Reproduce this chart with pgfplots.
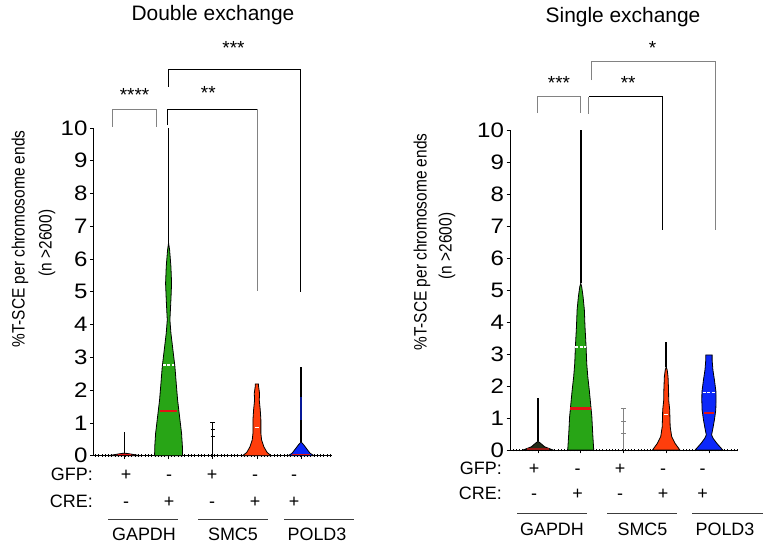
\documentclass[border=0pt]{standalone}
\usepackage{fontspec}
\setmainfont{Liberation Sans}
\newfontfamily\ylabfont[FakeStretch=0.86]{Liberation Sans}
\newfontfamily\tickfont[FakeStretch=1.15]{Liberation Sans}
\usepackage{pgfplots}
\pgfplotsset{compat=1.18}
\definecolor{vgreen}{RGB}{40,165,22}
\definecolor{vorange}{RGB}{255,62,12}
\definecolor{vblue}{RGB}{12,40,250}
\definecolor{vred}{RGB}{225,20,20}
\definecolor{vdark}{RGB}{35,45,25}
\definecolor{vdred}{RGB}{150,25,20}
\definecolor{brgray}{RGB}{130,130,130}
\definecolor{lgray}{RGB}{60,60,60}
\pgfplotsset{
 violinax/.style={
   scale only axis, anchor=south west,
   ymin=0, ymax=10, ytick={0,1,...,10},
   xtick={0,1,2,3,4}, xticklabels={},
   axis x line*=bottom, axis y line*=left,
   axis line style={-, line width=0.9bp},
   tick style={black, line width=0.8bp},
   tick align=outside, major tick length=3.5bp,
   minor tick length=2.5bp,
   minor xtick={-0.66,-0.585,...,4.7},
   minor x tick style={yshift=1.2bp, line width=0.7bp},
   yticklabel style={font=\tickfont\fontsize{21}{21}\selectfont, xshift=1bp},
   /pgf/number format/assume math mode=true,
   clip=false,
 },
 vio/.style={draw=black, line width=0.8bp},
 whisk/.style={black, line width=1.2bp},
 med/.style={vred, line width=2.4bp},
 qrt/.style={white, line width=1.2bp, dash pattern=on 3bp off 1.5bp},
 br/.style={line width=0.8bp},
}
\tikzset{
 star/.style={font=\fontsize{19}{19}\selectfont},
 lab/.style={font=\fontsize{18}{18}\selectfont},
 ttl/.style={font=\fontsize{21}{23}\selectfont},
 ylab/.style={font=\ylabfont\fontsize{18}{20}\selectfont, rotate=90},
}
\begin{document}
\begin{tikzpicture}
\path[use as bounding box] (0,0) rectangle (770bp,543bp);

% ================= LEFT: Double exchange =================
\begin{axis}[violinax, at={(93.5bp,87.3bp)}, width=238.5bp, height=327.7bp,
  xmin=-0.7, xmax=4.7]
% GAPDH GFP+
\addplot[vio, fill=vdred] coordinates {(-0.36,0) (-0.15,0.05) (0,0.08) (0.15,0.05) (0.36,0)} --cycle;
\addplot[whisk] coordinates {(0,0.08) (0,0.73)};
\addplot[med, line width=1.5bp] coordinates {(-0.14,0.03) (0.14,0.03)};
% GAPDH CRE+
\addplot[vio, fill=vgreen] coordinates {(0.683,0) (0.688,0.3) (0.706,0.68) (0.751,1.19) (0.796,1.70) (0.827,2.21) (0.857,2.72) (0.902,3.23) (0.947,3.74) (0.970,4.14) (0.947,4.76) (0.932,5.26) (0.947,5.77) (0.977,6.28) (1,6.49)
 (1.023,6.28) (1.053,5.77) (1.068,5.26) (1.053,4.76) (1.030,4.14) (1.053,3.74) (1.098,3.23) (1.143,2.72) (1.173,2.21) (1.204,1.70) (1.249,1.19) (1.294,0.68) (1.312,0.3) (1.317,0)} --cycle;
\addplot[whisk] coordinates {(1,6.49) (1,10)};
\addplot[med] coordinates {(0.81,1.37) (1.19,1.37)};
\addplot[qrt] coordinates {(0.87,2.77) (1.13,2.77)};
% SMC5 GFP+
\addplot[whisk, line width=1bp] coordinates {(2,0) (2,1.0)};
\addplot[whisk, line width=1bp] coordinates {(1.94,1.0) (2.06,1.0)};
\addplot[whisk, line width=1bp] coordinates {(1.95,0.8) (2.05,0.8)};
\addplot[whisk, line width=1bp] coordinates {(1.95,0.6) (2.05,0.6)};
% SMC5 CRE+
\addplot[vio, fill=vorange] coordinates {(2.676,0) (2.77,0.1) (2.842,0.27) (2.894,0.48) (2.91,0.68) (2.91,1.09) (2.925,1.40) (2.947,1.70) (2.94,1.90) (2.962,2.11) (2.962,2.19)
 (3.038,2.19) (3.038,2.11) (3.06,1.90) (3.053,1.70) (3.075,1.40) (3.09,1.09) (3.09,0.68) (3.106,0.48) (3.158,0.27) (3.23,0.1) (3.324,0)} --cycle;
\addplot[white, line width=1.2bp] coordinates {(2.95,0.87) (3.05,0.87)};
% POLD3 CRE+
\addplot[vio, fill=vblue] coordinates {(3.71,0) (3.80,0.08) (3.85,0.17) (3.94,0.33) (4,0.42) (4.06,0.33) (4.15,0.17) (4.20,0.08) (4.29,0)} --cycle;
\addplot[whisk] coordinates {(4,0.42) (4,2.72)};
\addplot[vblue!60!black, line width=2bp] coordinates {(4,1.1) (4,1.8)};
\addplot[med, line width=1.5bp] coordinates {(3.8,0.03) (4.2,0.03)};
% significance brackets
\addplot[br, brgray] coordinates {(-0.266,10.04) (-0.266,10.58) (0.73,10.58) (0.73,10.04)};
\addplot[br, brgray] coordinates {(3.006,5.03) (3.006,10.58)};
\addplot[br, black] coordinates {(0.97,10.09) (0.97,10.58) (3.006,10.58)};
\addplot[br, black] coordinates {(0.99,11.26) (0.99,11.8) (3.99,11.8) (3.99,5.0)};
\node[star] at (axis cs:0.23,11.0) {****};
\node[star] at (axis cs:1.9,11.07) {**};
\node[star] at (axis cs:2.47,12.44) {***};
\end{axis}

% ================= RIGHT: Single exchange =================
\begin{axis}[violinax, at={(510bp,93bp)}, width=228bp, height=320bp,
  xmin=-0.655, xmax=4.68]
% GAPDH GFP+
\addplot[vio, fill=vdark] coordinates {(-0.35,0) (-0.156,0.1) (-0.06,0.21) (0,0.27) (0.06,0.21) (0.156,0.1) (0.35,0)} --cycle;
\addplot[whisk] coordinates {(0,0.27) (0,1.61)};
\addplot[vdred, line width=1.5bp] coordinates {(-0.25,0.03) (0.25,0.03)};
% GAPDH CRE+
\addplot[vio, fill=vgreen] coordinates {(0.696,0) (0.72,0.52) (0.74,1.04) (0.77,1.46) (0.80,1.875) (0.835,2.29) (0.86,2.71) (0.875,3.23) (0.90,3.85) (0.915,4.375) (0.945,4.79) (0.977,5.10) (1,5.21)
 (1.023,5.10) (1.055,4.79) (1.085,4.375) (1.10,3.85) (1.125,3.23) (1.14,2.71) (1.165,2.29) (1.20,1.875) (1.23,1.46) (1.26,1.04) (1.28,0.52) (1.304,0)} --cycle;
\addplot[whisk, line width=1.6bp] coordinates {(1,5.21) (1,10)};
\addplot[med] coordinates {(0.755,1.3) (1.245,1.3)};
\addplot[qrt] coordinates {(0.875,3.22) (1.125,3.22)};
% SMC5 GFP+
\addplot[brgray, line width=1bp] coordinates {(2,0) (2,1.3)};
\addplot[brgray, line width=1bp] coordinates {(1.94,1.3) (2.06,1.3)};
\addplot[brgray, line width=1bp] coordinates {(1.95,0.89) (2.05,0.89)};
\addplot[brgray, line width=1bp] coordinates {(1.95,0.52) (2.05,0.52)};
% SMC5 CRE+
\addplot[vio, fill=vorange] coordinates {(2.68,0) (2.794,0.21) (2.872,0.42) (2.907,0.73) (2.918,1.25) (2.942,1.56) (2.945,1.875) (2.957,2.29) (2.977,2.5) (3,2.6)
 (3.023,2.5) (3.043,2.29) (3.055,1.875) (3.058,1.56) (3.082,1.25) (3.093,0.73) (3.128,0.42) (3.206,0.21) (3.32,0)} --cycle;
\addplot[whisk, line width=1.6bp] coordinates {(3,2.6) (3,3.39)};
\addplot[white, line width=1.2bp] coordinates {(2.955,1.12) (3.045,1.12)};
% POLD3 CRE+
\addplot[vio, fill=vblue] coordinates {(3.677,0) (3.817,0.21) (3.90,0.36) (3.938,0.47) (3.907,0.68) (3.872,0.94) (3.84,1.25) (3.833,1.56) (3.836,1.82) (3.872,2.19) (3.907,2.5) (3.926,2.81) (3.926,2.97)
 (4.074,2.97) (4.074,2.81) (4.093,2.5) (4.128,2.19) (4.164,1.82) (4.167,1.56) (4.16,1.25) (4.128,0.94) (4.093,0.68) (4.062,0.47) (4.10,0.36) (4.183,0.21) (4.323,0)} --cycle;
\addplot[med] coordinates {(3.89,1.15) (4.11,1.15)};
\addplot[qrt] coordinates {(3.852,1.8) (4.148,1.8)};
% significance brackets
\addplot[br, brgray] coordinates {(-0.007,10.53) (-0.007,11.04) (0.999,11.04) (0.999,10.53)};
\addplot[br, brgray] coordinates {(1.19,10.5) (1.19,11.04)};
\addplot[br, black] coordinates {(1.19,11.04) (2.917,11.04) (2.917,6.875)};
\addplot[br, brgray] coordinates {(1.256,11.56) (1.256,12.13) (4.16,12.13) (4.16,6.875)};
\node[star] at (axis cs:0.49,11.47) {***};
\node[star] at (axis cs:2.11,11.48) {**};
\node[star] at (axis cs:2.68,12.56) {*};
\end{axis}

% ================= text outside axes =================
\node[ttl] at (213bp,528bp) {Double exchange};
\node[ttl] at (623bp,526bp) {Single exchange};
\node[ylab] at (20bp,304bp) {\%T-SCE per chromosome ends};
\node[ylab] at (47bp,300bp) {(n >2600)};
\node[ylab] at (422bp,301bp) {\%T-SCE per chromosome ends};
\node[ylab] at (447bp,297bp) {(n >2600)};

% left rows
\node[lab, anchor=base east, inner sep=0] at (93bp,62bp) {GFP:};
\node[lab, anchor=base east, inner sep=0] at (93bp,36bp) {CRE:};
\foreach \x/\s in {126/+,169/-,212/+,255/-,294/-} \node[lab, anchor=base, inner sep=0] at (\x bp,62bp) {\s};
\foreach \x/\s in {126/-,169/+,212/-,255/+,294/+} \node[lab, anchor=base, inner sep=0] at (\x bp,36bp) {\s};
\draw[lgray, line width=0.8bp] (108bp,23.7bp) -- (178bp,23.7bp);
\draw[lgray, line width=0.8bp] (198bp,23.7bp) -- (268bp,23.7bp);
\draw[lgray, line width=0.8bp] (284bp,23.7bp) -- (354bp,23.7bp);
\node[lab, anchor=base, inner sep=0] at (144bp,3bp) {GAPDH};
\node[lab, anchor=base, inner sep=0] at (233bp,3bp) {SMC5};
\node[lab, anchor=base, inner sep=0] at (317bp,3bp) {POLD3};

% right rows
\node[lab, anchor=base east, inner sep=0] at (502bp,68bp) {GFP:};
\node[lab, anchor=base east, inner sep=0] at (502bp,43bp) {CRE:};
\foreach \x/\s in {534/+,577.7/-,620/+,663/-,702.7/-} \node[lab, anchor=base, inner sep=0] at (\x bp,68bp) {\s};
\foreach \x/\s in {534/-,577.7/+,620/-,663/+,702.7/+} \node[lab, anchor=base, inner sep=0] at (\x bp,43bp) {\s};
\draw[lgray, line width=0.8bp] (517bp,30bp) -- (587bp,30bp);
\draw[lgray, line width=0.8bp] (607bp,30bp) -- (677bp,30bp);
\draw[lgray, line width=0.8bp] (692bp,30bp) -- (763bp,30bp);
\node[lab, anchor=base, inner sep=0] at (552bp,8bp) {GAPDH};
\node[lab, anchor=base, inner sep=0] at (642.5bp,8bp) {SMC5};
\node[lab, anchor=base, inner sep=0] at (725bp,8bp) {POLD3};
\end{tikzpicture}
\end{document}
